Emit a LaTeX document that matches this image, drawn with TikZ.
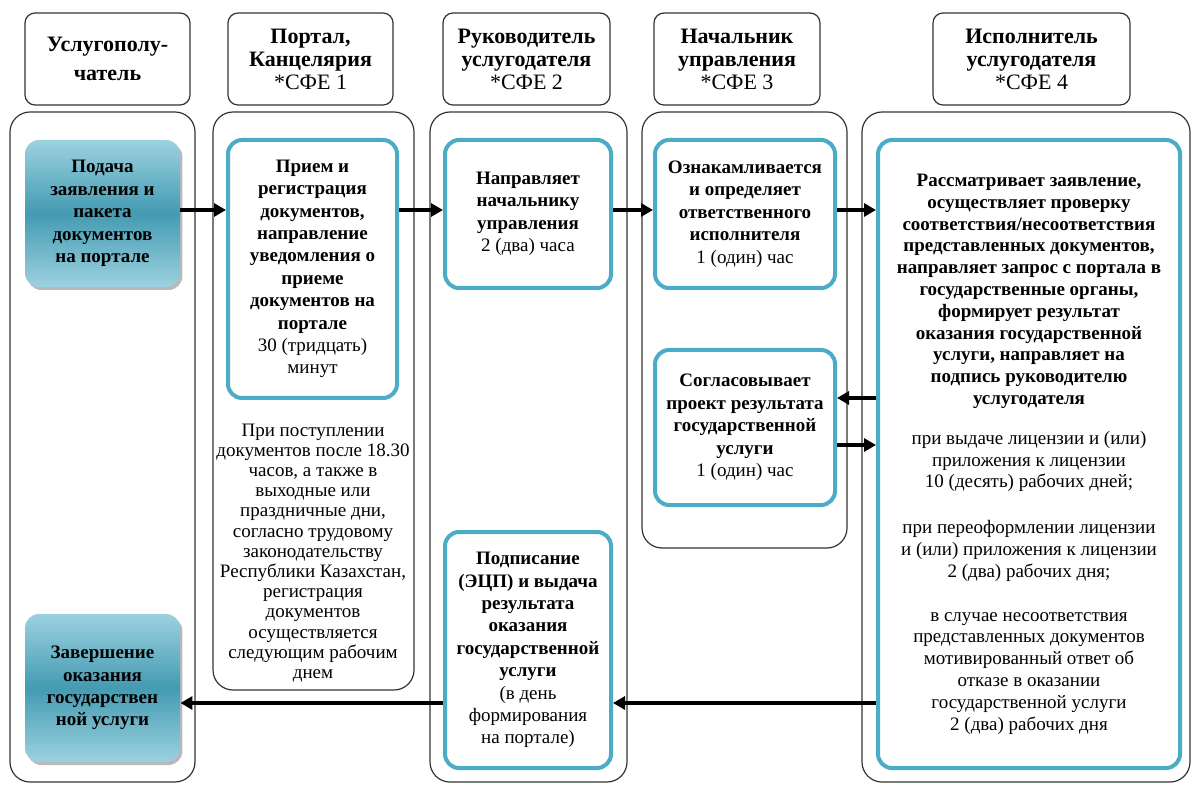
\documentclass[tikz,border=0pt]{standalone}
\usepackage{fontspec}
\setmainfont{Liberation Serif}
\usetikzlibrary{arrows.meta,shadows,calc}
\definecolor{accent}{HTML}{4BACC6}

\begin{document}
\begin{tikzpicture}[x=0.5pt,y=-0.5pt,>={Triangle[length=6pt,width=6.5pt]},
    lane/.style={draw=black!80,line width=0.6pt,rounded corners=10pt},
    head/.style={draw=black!80,line width=0.6pt,rounded corners=5pt,align=center,
        inner sep=1pt,font=\fontsize{11}{11.5}\selectfont\bfseries},
    act/.style={draw=accent,line width=2pt,rounded corners=7pt,fill=white,align=center,
        inner sep=2pt,font=\fontsize{9.5}{11.2}\selectfont\bfseries},
    term/.style={rounded corners=7pt,top color=accent!55,bottom color=accent!55,
        middle color=accent!90!black,align=center,inner sep=2pt,
        drop shadow={shadow xshift=1.2pt,shadow yshift=-1.5pt,opacity=.55},
        font=\fontsize{9.5}{11.2}\selectfont\bfseries},
    flow/.style={->,line width=1.6pt}]
    \useasboundingbox (0,0) rectangle (1192,785);

    % swimlanes
    \node[lane,minimum width=92.5pt,minimum height=335pt] (lane1) at (102.5,447) {};
    \node[lane,minimum width=100.5pt,minimum height=289pt] (lane2) at (313.5,401) {};
    \node[lane,minimum width=98.5pt,minimum height=335pt] (lane3) at (528.5,447) {};
    \node[lane,minimum width=102.5pt,minimum height=218pt] (lane4) at (744.5,330) {};
    \node[lane,minimum width=164pt,minimum height=335pt] (lane5) at (1026,447) {};

    % headers
    \node[head,minimum width=82.5pt,minimum height=46pt] (h1) at (107.5,59)
        {\raisebox{-2pt}{Услугополу-}\\[5pt]чатель};
    \node[head,minimum width=82.5pt,minimum height=46pt] (h2) at (310.5,59)
        {Портал,\\Канцелярия\\\mdseries *СФЕ 1};
    \node[head,minimum width=83.5pt,minimum height=46pt] (h3) at (526.5,59)
        {Руководитель\\услугодателя\\\mdseries *СФЕ 2};
    \node[head,minimum width=83pt,minimum height=46pt] (h4) at (737,59)
        {Начальник\\управления\\\mdseries *СФЕ 3};
    \node[head,minimum width=98.5pt,minimum height=46pt] (h5) at (1031.5,59)
        {Исполнитель\\услугодателя\\\mdseries *СФЕ 4};

    % steps
    \node[term,minimum width=77.5pt,minimum height=73.5pt] (start) at (102.5,213.5)
        {Подача\\заявления и\\пакета\\документов\\на портале};
    \node[act,minimum width=84.5pt,minimum height=129pt] (b2) at (312.5,269)
        {Прием и\\регистрация\\документов,\\направление\\уведомления о\\приеме\\документов на\\портале\\
        \mdseries 30 (тридцать)\\\mdseries минут};
    \node[align=center,font=\fontsize{9.5}{10.1}\selectfont] (note) at (313,553)
        {При поступлении\\документов после 18.30\\часов, а также в\\выходные или\\праздничные дни,\\
        согласно трудовому\\законодательству\\Республики Казахстан,\\регистрация\\документов\\
        осуществляется\\следующим рабочим\\днем};
    \node[act,minimum width=83pt,minimum height=74pt] (b3) at (528,214)
        {Направляет\\начальнику\\управления\\\mdseries 2 (два) часа};
    \node[act,minimum width=90pt,minimum height=74pt] (b4) at (745,214)
        {Ознакамливается\\и определяет\\ответственного\\исполнителя\\\mdseries 1 (один) час};
    \node[act,minimum width=90pt,minimum height=77.5pt] (b5) at (745,427.5)
        {Согласовывает\\проект результата\\государственной\\услуги\\\mdseries 1 (один) час};
    \node[act,minimum width=83pt,minimum height=118pt] (b6) at (528,650)
        {Подписание\\(ЭЦП) и выдача\\результата\\оказания\\государственной\\услуги\\
        \mdseries (в день\\\mdseries формирования\\\mdseries на портале)};
    \node[act,minimum width=151pt,minimum height=314pt,font=\fontsize{9.5}{10.9}\selectfont\bfseries] (b7) at (1029,454)
        {Рассматривает заявление,\\осуществляет проверку\\соответствия/несоответствия\\
        представленных документов,\\направляет запрос с портала в\\государственные органы,\\
        формирует результат\\оказания государственной\\услуги, направляет на\\
        подпись руководителю\\услугодателя\\[9pt]
        \mdseries при выдаче лицензии и (или)\\\mdseries приложения к лицензии\\
        \mdseries 10 (десять) рабочих дней;\\[12pt]
        \mdseries при переоформлении лицензии\\\mdseries и (или) приложения к лицензии\\
        \mdseries 2 (два) рабочих дня;\\[11pt]
        \mdseries в случае несоответствия\\\mdseries представленных документов\\
        \mdseries мотивированный ответ об\\\mdseries отказе в оказании\\
        \mdseries государственной услуги\\\mdseries 2 (два) рабочих дня};
    \node[term,minimum width=77.5pt,minimum height=74pt] (fin) at (102.5,688)
        {Завершение\\оказания\\государствен\\ной услуги};

    % connectors
    \coordinate (r1) at (0,210);
    \coordinate (r2) at (0,398);
    \coordinate (r3) at (0,445);
    \coordinate (r4) at (0,703);
    \draw[flow] (start.east |- r1) -- (b2.west |- r1);
    \draw[flow] (b2.east |- r1) -- (b3.west |- r1);
    \draw[flow] (b3.east |- r1) -- (b4.west |- r1);
    \draw[flow] (b4.east |- r1) -- (b7.west |- r1);
    \draw[flow] (b7.west |- r2) -- (b5.east |- r2);
    \draw[flow] (b5.east |- r3) -- (b7.west |- r3);
    \draw[flow] (b7.west |- r4) -- (b6.east |- r4);
    \draw[flow] (b6.west |- r4) -- (fin.east |- r4);
\end{tikzpicture}
\end{document}
